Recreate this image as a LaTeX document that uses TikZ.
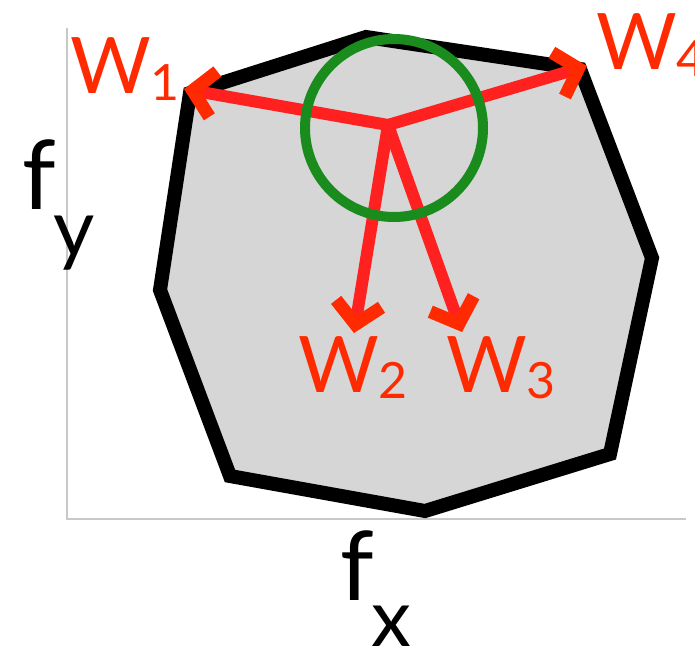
\documentclass[tikz,border=0pt]{standalone}
\usepackage{fontspec}
\usepackage{tikz}
\usetikzlibrary{arrows.meta}
\newfontfamily\glabel{Lato}
\definecolor{zoneg}{RGB}{214,214,214}
\definecolor{wshaft}{RGB}{255,32,32}
\definecolor{wtip}{RGB}{255,42,0}
\definecolor{ballg}{RGB}{26,140,30}
\definecolor{axisg}{RGB}{200,200,200}

\begin{document}
\begin{tikzpicture}[x=1pt, y=-1pt,
    wvec/.style={wshaft, line width=12pt,
      -{Straight Barb[sharp, color=wtip, length=21pt, width=46pt, line width=13pt]}},
    wlab/.style={wtip, anchor=base west, inner sep=0pt,
      font=\glabel\fontsize{78}{78}\selectfont},
    flab/.style={black, anchor=base west, inner sep=0pt,
      font=\glabel\fontsize{96}{96}\selectfont},
    sublab/.style={black, anchor=base west, inner sep=0pt,
      font=\glabel\fontsize{80}{80}\selectfont}]
    \useasboundingbox (0,0) rectangle (695,654);
    \clip (0,0) rectangle (695,654);
    \draw[axisg, line width=2pt] (67,28) -- (67,519) -- (686,519);
    \coordinate (v1) at (190,93);
    \coordinate (v2) at (366,37);
    \coordinate (v3) at (580,69);
    \coordinate (v4) at (652,258);
    \coordinate (v5) at (610,454);
    \coordinate (v6) at (425,511);
    \coordinate (v7) at (230,476);
    \coordinate (v8) at (160,290);
    \filldraw[fill=zoneg, draw=black, line width=14pt, line join=miter]
        (v1) -- (v2) -- (v3) -- (v4) -- (v5) -- (v6) -- (v7) -- (v8) -- cycle;
    \coordinate (c) at (388,125);
    \coordinate (t1) at (184,89);
    \coordinate (t2) at (354,333);
    \coordinate (t3) at (462,332);
    \coordinate (t4) at (587,66);
    \foreach \t in {t1,t2,t3,t4}
        \draw[wvec] (c) -- (\t);
    \draw[ballg, line width=10pt] (394,128) circle (89);
    \node[wlab] (w1) at (70,93) {W\raisebox{-7pt}{\fontsize{50}{50}\selectfont 1}};
    \node[wlab] (w2) at (298,392) {W\raisebox{-6pt}{\fontsize{50}{50}\selectfont 2}};
    \node[wlab] (w3) at (446,392) {W\raisebox{-6pt}{\fontsize{50}{50}\selectfont 3}};
    \node[wlab] (w4) at (596,69) {W\raisebox{-7pt}{\fontsize{50}{50}\selectfont 4}};
    \node[flab] (fy) at (22,209) {f};
    \node[sublab] (fysub) at (53,256) {y};
    \node[flab] (fx) at (340,600) {f};
    \node[sublab] (fxsub) at (371,646) {x};
\end{tikzpicture}
\end{document}
